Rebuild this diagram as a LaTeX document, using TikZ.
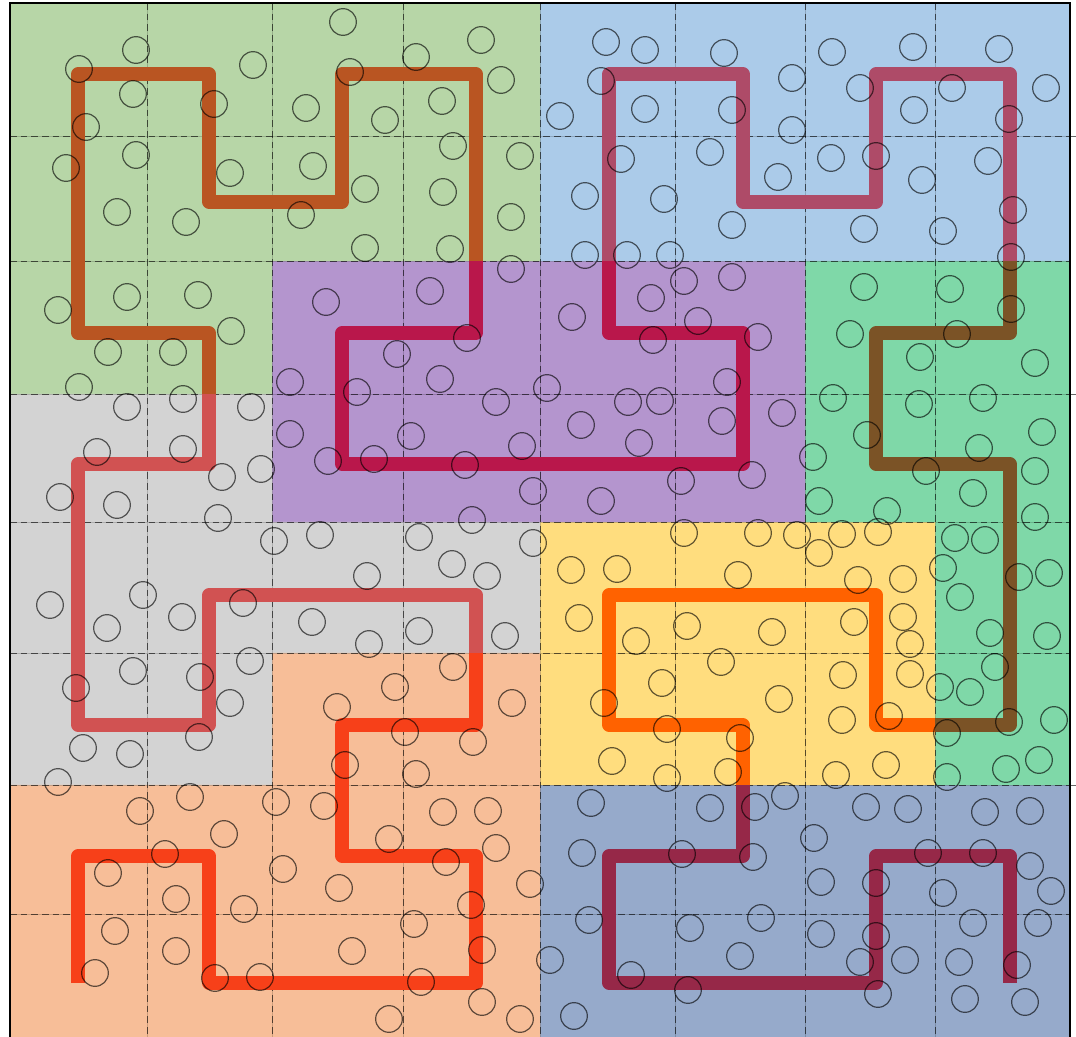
\documentclass[tikz,border=0pt]{standalone}
\usepackage{tikz}
\usetikzlibrary{calc}

\definecolor{greenfill}{RGB}{183,214,167}
\definecolor{bluefill}{RGB}{171,203,233}
\definecolor{purplefill}{RGB}{180,149,206}
\definecolor{tealfill}{RGB}{127,216,168}
\definecolor{grayfill}{RGB}{211,211,211}
\definecolor{yellowfill}{RGB}{255,221,126}
\definecolor{orangefill}{RGB}{247,190,152}
\definecolor{navyfill}{RGB}{150,170,203}
\definecolor{greenpath}{RGB}{185,85,34}
\definecolor{bluepath}{RGB}{174,75,104}
\definecolor{purplepath}{RGB}{185,23,75}
\definecolor{tealpath}{RGB}{123,83,38}
\definecolor{graypath}{RGB}{209,82,82}
\definecolor{yellowpath}{RGB}{255,98,0}
\definecolor{orangepath}{RGB}{247,64,25}
\definecolor{navypath}{RGB}{150,40,72}

\begin{document}
\begin{tikzpicture}[x=0.75pt, y=-0.75pt,
    region/.style={fill=#1, draw=none},
    cellline/.style={draw=#1!70!black, draw opacity=0.35, line width=0.6pt},
    gridline/.style={draw=black, draw opacity=0.6, line width=0.7pt, dash pattern=on 5pt off 3pt},
    curve/.style={draw=#1, line width=9.8pt, line join=round},
    sample/.style={draw=black, draw opacity=0.62, line width=0.9pt},
    frame/.style={draw=black, line width=1.6pt}
  ]

  \useasboundingbox (0,0) rectangle (1076,1037);
  \fill[white] (0,0) rectangle (1076,1037);

  % --- grid corners and cell centres ---
  \foreach \i/\x in {0/10,1/147,2/272,3/403,4/540,5/675,6/805,7/935,8/1070}
    \foreach \j/\y in {0/3,1/136,2/261,3/394,4/522,5/653,6/785,7/914,8/1037}
      \coordinate (g\i-\j) at (\x,\y);
  \foreach \i/\x in {0/78,1/209,2/342,3/476,4/609,5/743,6/876,7/1010}
    \foreach \j/\y in {0/74,1/202,2/333,3/464,4/595,5/725,6/856,7/983}
      \coordinate (c\i-\j) at (\x,\y);

  % --- partitions ---
  \path[region=greenfill] (g0-0) rectangle (g4-2) (g0-2) rectangle (g2-3);
  \path[region=purplefill] (g2-2) rectangle (g6-4);
  \path[region=bluefill] (g4-0) rectangle (g8-2);
  \path[region=tealfill] (g6-2) rectangle (g8-4) (g7-4) rectangle (g8-6);
  \path[region=grayfill] (g0-3) rectangle (g2-6) (g2-4) rectangle (g4-5);
  \path[region=yellowfill] (g4-4) rectangle (g7-6);
  \path[region=orangefill] (g0-6) rectangle (g4-8) (g2-5) rectangle (g4-6);
  \path[region=navyfill] (g4-6) rectangle (g8-8);

  % cell outlines
  \foreach \c/\r [evaluate=\c as \cn using int(\c+1), evaluate=\r as \rn using int(\r+1)]
    in {0/0,1/0,2/0,3/0,0/1,1/1,2/1,3/1,0/2,1/2}
    \draw[cellline=greenfill] (g\c-\r) rectangle (g\cn-\rn);
  \foreach \c/\r [evaluate=\c as \cn using int(\c+1), evaluate=\r as \rn using int(\r+1)]
    in {2/2,3/2,4/2,5/2,2/3,3/3,4/3,5/3}
    \draw[cellline=purplefill] (g\c-\r) rectangle (g\cn-\rn);
  \foreach \c/\r [evaluate=\c as \cn using int(\c+1), evaluate=\r as \rn using int(\r+1)]
    in {4/0,5/0,6/0,7/0,4/1,5/1,6/1,7/1}
    \draw[cellline=bluefill] (g\c-\r) rectangle (g\cn-\rn);
  \foreach \c/\r [evaluate=\c as \cn using int(\c+1), evaluate=\r as \rn using int(\r+1)]
    in {6/2,7/2,6/3,7/3,7/4,7/5}
    \draw[cellline=tealfill] (g\c-\r) rectangle (g\cn-\rn);
  \foreach \c/\r [evaluate=\c as \cn using int(\c+1), evaluate=\r as \rn using int(\r+1)]
    in {0/3,1/3,0/4,1/4,2/4,3/4,0/5,1/5}
    \draw[cellline=grayfill] (g\c-\r) rectangle (g\cn-\rn);
  \foreach \c/\r [evaluate=\c as \cn using int(\c+1), evaluate=\r as \rn using int(\r+1)]
    in {4/4,5/4,6/4,4/5,5/5,6/5}
    \draw[cellline=yellowfill] (g\c-\r) rectangle (g\cn-\rn);
  \foreach \c/\r [evaluate=\c as \cn using int(\c+1), evaluate=\r as \rn using int(\r+1)]
    in {2/5,3/5,0/6,1/6,2/6,3/6,0/7,1/7,2/7,3/7}
    \draw[cellline=orangefill] (g\c-\r) rectangle (g\cn-\rn);
  \foreach \c/\r [evaluate=\c as \cn using int(\c+1), evaluate=\r as \rn using int(\r+1)]
    in {4/6,5/6,6/6,7/6,4/7,5/7,6/7,7/7}
    \draw[cellline=navyfill] (g\c-\r) rectangle (g\cn-\rn);

  % --- dashed grid ---
  \foreach \i in {1,...,7}
    \draw[gridline] (g\i-0) -- (g\i-8);
  \foreach \j in {1,...,7}
    \draw[gridline] (g0-\j) -- (g8-\j);
  \foreach \j in {1,3,6}
    \draw[gridline] (g8-\j) -- ++(6,0);

  % --- curve, split where it leaves a partition ---
  \coordinate (s1) at (c3-5 |- g0-5);
  \coordinate (s2) at (c1-3 |- g0-3);
  \coordinate (s3) at (c3-1 |- g0-2);
  \coordinate (s4) at (c4-2 |- g0-2);
  \coordinate (s5) at (c7-1 |- g0-2);
  \coordinate (s6) at (g7-0 |- c7-5);
  \coordinate (s7) at (c5-5 |- g0-6);

  \draw[curve=orangepath] (c0-7) -- (c0-6) -- (c1-6) -- (c1-7) -- (c3-7) -- (c3-6)
    -- (c2-6) -- (c2-5) -- (c3-5) -- (s1);
  \draw[curve=graypath] (s1) -- (c3-4) -- (c1-4) -- (c1-5) -- (c0-5) -- (c0-3)
    -- (c1-3) -- (s2);
  \draw[curve=greenpath] (s2) -- (c1-2) -- (c0-2) -- (c0-0) -- (c1-0) -- (c1-1)
    -- (c2-1) -- (c2-0) -- (c3-0) -- (s3);
  \draw[curve=purplepath] (s3) -- (c3-2) -- (c2-2) -- (c2-3) -- (c5-3) -- (c5-2)
    -- (c4-2) -- (s4);
  \draw[curve=bluepath] (s4) -- (c4-0) -- (c5-0) -- (c5-1) -- (c6-1) -- (c6-0)
    -- (c7-0) -- (s5);
  \draw[curve=tealpath] (s5) -- (c7-2) -- (c6-2) -- (c6-3) -- (c7-3) -- (s6 -| c7-5)
    -- (s6);
  \draw[curve=yellowpath] (s6) -- (c6-5) -- (c6-4) -- (c4-4) -- (c4-5) -- (c5-5) -- (s7);
  \draw[curve=navypath] (s7) -- (c5-6) -- (c4-6) -- (c4-7) -- (c6-7) -- (c6-6)
    -- (c7-6) -- (c7-7);

  % --- sample points ---
  % green
  \foreach \x/\y in {343/22,136/50,79/69,253/65,350/72,133/94,214/104,306/108,86/127,
      136/155,66/168,230/173,313/166,365/189,117/212,186/222,301/215,365/248,58/310,
      127/297,198/295,231/331,108/352,173/352,79/387,481/40,416/57,501/80,442/101,
      385/120,453/146,520/156,443/192,511/217,450/249,511/269}
    \draw[sample] (\x,\y) circle[radius=10pt];
  % purple
  \foreach \x/\y in {326/302,430/291,467/338,397/354,290/382,357/392,290/434,328/461,
      374/459,440/379,547/388,496/402,628/402,660/401,411/436,522/446,581/425,639/443,
      465/465,533/491,601/501,681/481,472/520,684/281,651/298,572/317,698/321,653/340,
      732/277,758/337,727/382,722/421,782/413,752/475}
    \draw[sample] (\x,\y) circle[radius=10pt];
  % blue
  \foreach \x/\y in {606/42,645/50,601/81,560/116,645/109,710/152,621/159,585/196,
      664/199,585/255,627/255,670/255,724/53,832/52,913/47,999/49,792/78,860/88,952/88,
      1046/88,732/110,914/110,1009/119,792/130,831/158,876/156,988/161,778/177,922/180,
      1013/210,732/225,864/229,943/231,1011/257}
    \draw[sample] (\x,\y) circle[radius=10pt];
  % teal
  \foreach \x/\y in {864/287,950/289,1011/309,850/334,957/334,920/357,1035/363,833/398,
      919/404,983/398,1042/432,867/435,813/457,979/448,926/471,1035/471,973/493,819/501,
      887/511,1035/517,955/538,985/540,943/568,1019/577,1049/573,960/597,990/633,
      1047/636,995/667,970/692,940/687,1009/722,1054/720,947/733,1006/769,1039/760,947/777}
    \draw[sample] (\x,\y) circle[radius=10pt];
  % gray
  \foreach \x/\y in {183/399,127/407,251/407,97/452,183/449,222/477,261/469,60/497,
      117/505,218/518,274/541,320/535,367/576,143/595,50/605,182/617,243/603,312/622,
      107/628,369/644,133/671,250/661,200/677,76/688,230/703,419/537,452/564,487/576,
      419/631,505/636,533/543,83/748,130/754,199/737,58/782}
    \draw[sample] (\x,\y) circle[radius=10pt];
  % yellow
  \foreach \x/\y in {758/533,797/535,842/534,878/532,684/533,819/553,738/575,858/580,
      903/579,772/632,854/622,903/617,910/644,721/662,843/675,910/674,571/570,617/569,
      579/618,687/626,636/641,662/683,604/703,667/729,612/761,667/778,779/699,842/720,
      889/716,740/738,728/772,836/775,886/765}
    \draw[sample] (\x,\y) circle[radius=10pt];
  % orange
  \foreach \x/\y in {453/667,395/687,512/703,337/707,405/732,473/742,416/774,345/765,
      140/811,190/797,276/802,324/806,224/834,165/854,283/869,339/888,108/873,176/899,
      244/909,115/931,176/951,352/951,95/973,215/978,260/977,443/812,488/811,389/839,
      496/848,446/862,530/884,471/905,414/924,482/950,421/982,482/1002,389/1019,520/1019}
    \draw[sample] (\x,\y) circle[radius=10pt];
  % navy
  \foreach \x/\y in {591/803,710/808,755/807,785/796,866/807,908/809,985/812,1030/811,
      814/838,753/857,582/853,682/854,928/853,983/853,1030/866,821/882,876/883,943/893,
      1051/891,589/920,690/928,761/918,821/934,876/936,973/923,1038/923,550/960,631/975,
      740/956,860/962,905/960,959/962,1017/965,688/990,878/994,965/999,1025/1002,574/1016}
    \draw[sample] (\x,\y) circle[radius=10pt];

  % --- frame ---
  \draw[frame] (g0-8) -- (g0-0) -- (g8-0) -- (g8-8);
\end{tikzpicture}
\end{document}
